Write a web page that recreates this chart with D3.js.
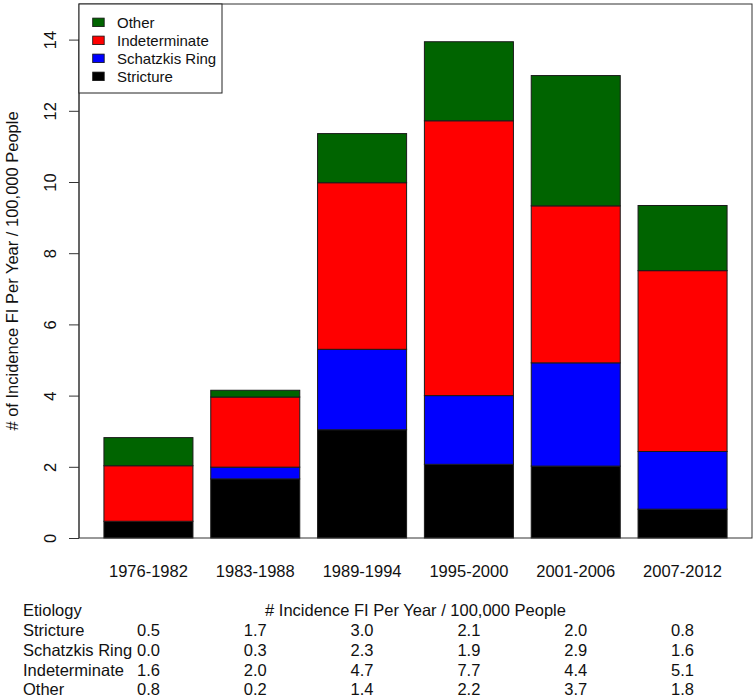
<!DOCTYPE html>
<html>
<head>
<meta charset="utf-8">
<script src="https://cdn.jsdelivr.net/npm/d3@7"></script>
<style>
  html, body { margin: 0; padding: 0; background: #fff; }
  svg { display: block; }
  text { font-family: "Liberation Sans", Arial, Helvetica, sans-serif; fill: #111; }
</style>
</head>
<body>
<svg id="chart" width="756" height="699"></svg>
<script>
// ---- data ----
const periods = ["1976-1982", "1983-1988", "1989-1994", "1995-2000", "2001-2006", "2007-2012"];
const seriesNames = ["Stricture", "Schatzkis Ring", "Indeterminate", "Other"];
const stricture     = [0.47, 1.66, 3.04, 2.07, 2.02, 0.81];
const schatzkisRing = [0.00, 0.33, 2.26, 1.93, 2.90, 1.62];
const indeterminate = [1.56, 1.97, 4.68, 7.72, 4.41, 5.08];
const other         = [0.79, 0.19, 1.38, 2.22, 3.66, 1.83];
const seriesColors  = ["#000000", "#0000ff", "#ff0000", "#006400"];
const yTicks = [0, 2, 4, 6, 8, 10, 12, 14];
const yTitle = "# of Incidence FI Per Year / 100,000 People";
const tableTitle = "Etiology";
const tableHeader = "# Incidence FI Per Year / 100,000 People";

// ---- layout ----
const svg = d3.select("#chart");
const plot = { left: 79, right: 752, top: 4, bottom: 538 };
const fs = 16.5;

const seriesValues = [stricture, schatzkisRing, indeterminate, other];
const rows = periods.map((p, i) => {
  const r = { period: p };
  seriesNames.forEach((s, k) => { r[s] = seriesValues[k][i]; });
  return r;
});
const stacked = d3.stack().keys(seriesNames)(rows);

const x = d3.scaleBand()
  .domain(periods)
  .range([plot.left, plot.right])
  .paddingInner(1 / 6)
  .paddingOuter(0.28 / 1.2);

const y = d3.scaleLinear().domain([0, 15]).range([plot.bottom, plot.top]);

// bars
svg.append("g").selectAll("g")
  .data(stacked)
  .join("g")
  .attr("fill", (d, k) => seriesColors[k])
  .selectAll("rect")
  .data(d => d)
  .join("rect")
  .attr("x", d => x(d.data.period))
  .attr("width", x.bandwidth())
  .attr("y", d => y(d[1]))
  .attr("height", d => Math.max(0, y(d[0]) - y(d[1])))
  .attr("stroke", "#1a1a1a")
  .attr("stroke-width", 1);

// plot box
svg.append("rect")
  .attr("x", plot.left).attr("y", plot.top)
  .attr("width", plot.right - plot.left)
  .attr("height", plot.bottom - plot.top)
  .attr("fill", "none").attr("stroke", "#333").attr("stroke-width", 1);

// y axis
const yAxis = d3.axisLeft(y).tickValues(yTicks).tickSize(10).tickSizeOuter(0).tickPadding(0);
const gy = svg.append("g").attr("transform", `translate(${plot.left},0)`).call(yAxis);
gy.select(".domain").attr("d", `M0,${y(0)}V${y(14)}`).attr("stroke", "#333");
gy.selectAll(".tick line").attr("stroke", "#333");
gy.selectAll(".tick text")
  .attr("font-size", fs)
  .attr("font-family", "Liberation Sans, Arial, sans-serif")
  .attr("text-anchor", "middle")
  .attr("dy", null)
  .attr("x", null)
  .attr("transform", "translate(-23,0) rotate(-90)")
  .attr("y", 0)
  .style("fill", "#111");

// x labels
svg.append("g").selectAll("text")
  .data(periods)
  .join("text")
  .attr("x", d => x(d) + x.bandwidth() / 2)
  .attr("y", 577)
  .attr("text-anchor", "middle")
  .attr("font-size", fs)
  .text(d => d);

// y title
svg.append("text")
  .attr("transform", `translate(18,${(plot.top + plot.bottom) / 2}) rotate(-90)`)
  .attr("text-anchor", "middle")
  .attr("font-size", fs)
  .text(yTitle);

// legend
const legend = svg.append("g");
legend.append("rect")
  .attr("x", plot.left).attr("y", plot.top)
  .attr("width", 143).attr("height", 89)
  .attr("fill", "#fff").attr("stroke", "#222").attr("stroke-width", 1);
const legendOrder = seriesNames.map((s, k) => k).reverse();
legend.selectAll("g.item")
  .data(legendOrder)
  .join("g")
  .attr("class", "item")
  .each(function (k, i) {
    const g = d3.select(this);
    const cy = 22.3 + i * 18;
    g.append("rect")
      .attr("x", 92.7).attr("y", cy - 4.2)
      .attr("width", 11.5).attr("height", 8.5)
      .attr("fill", seriesColors[k]).attr("stroke", "#111").attr("stroke-width", 0.8);
    g.append("text")
      .attr("x", 117).attr("y", cy + 5.3)
      .attr("font-size", 15)
      .text(seriesNames[k]);
  });

// table
const table = svg.append("g");
const rowY = i => 616 + i * 19.85;
table.append("text").attr("x", 23).attr("y", rowY(0)).attr("font-size", fs).text(tableTitle);
table.append("text")
  .attr("x", (plot.left + plot.right) / 2).attr("y", rowY(0))
  .attr("text-anchor", "middle").attr("font-size", fs)
  .text(tableHeader);
seriesNames.forEach((s, k) => {
  table.append("text").attr("x", 23).attr("y", rowY(k + 1)).attr("font-size", fs).text(s);
  table.selectAll(null)
    .data(seriesValues[k])
    .join("text")
    .attr("x", (d, i) => x(periods[i]) + x.bandwidth() / 2)
    .attr("y", rowY(k + 1))
    .attr("text-anchor", "middle")
    .attr("font-size", fs)
    .text(d => d.toFixed(1));
});
</script>
</body>
</html>
